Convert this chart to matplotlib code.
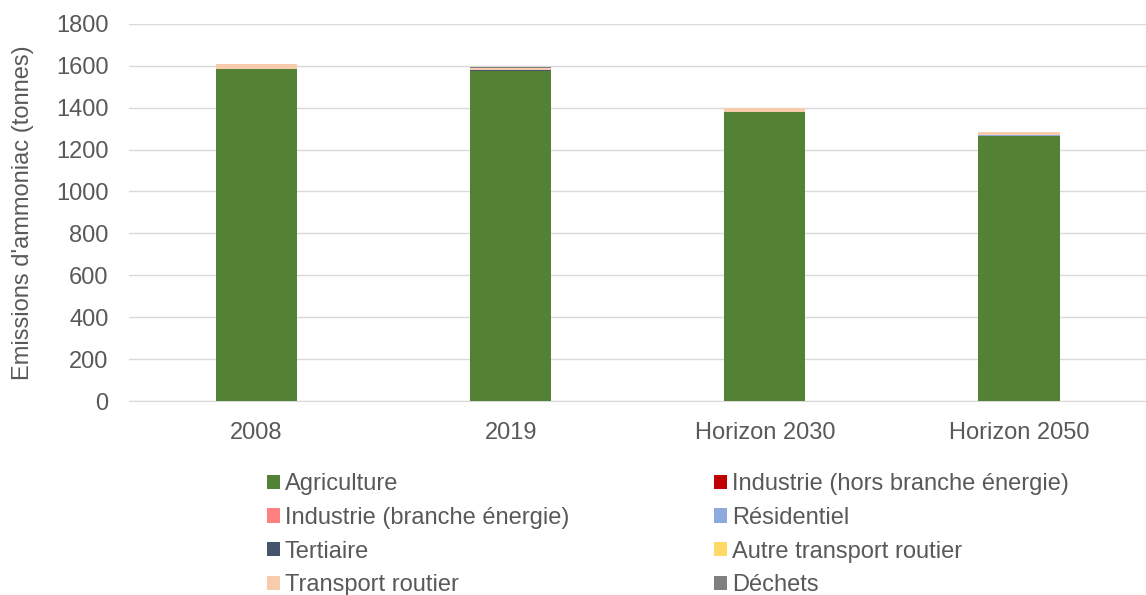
import matplotlib.pyplot as plt
import numpy as np

plt.rcParams['font.family'] = ['Liberation Sans', 'DejaVu Sans']

years = ["2008", "2019", "Horizon 2030", "Horizon 2050"]
sectors = ["Agriculture", "Industrie (hors branche énergie)", "Industrie (branche énergie)",
           "Résidentiel", "Tertiaire", "Autre transport routier", "Transport routier", "Déchets"]
colors = ["#548235", "#C00000", "#FF8080", "#8EA9DB", "#44546A", "#FFD966", "#F8CBAD", "#808080"]

agriculture = [1583, 1575, 1378, 1266]
industrie_hors = [0.5, 0.5, 0.5, 0.5]
industrie_energie = [0.2, 0.2, 0.2, 0.2]
residentiel = [1, 1, 1, 1]
tertiaire = [0.5, 2, 0.5, 0.5]
autre_transport = [0.5, 0.5, 0.5, 0.5]
transport_routier = [22, 11, 18, 16]
dechets = [0.5, 4, 0.5, 0.5]

series = [agriculture, industrie_hors, industrie_energie, residentiel,
          tertiaire, autre_transport, transport_routier, dechets]

fig = plt.figure(figsize=(11.46, 5.95), dpi=100)
ax = fig.add_axes([0.113, 0.326, 0.887, 0.634])

x = np.arange(len(years))
bottom = np.zeros(len(years))
handles = []
for name, vals, c in zip(sectors, series, colors):
    b = ax.bar(x, vals, 0.32, bottom=bottom, color=c, label=name, zorder=3)
    handles.append(b)
    bottom += np.array(vals)

ax.set_xlim(-0.5, 3.5)
ax.set_ylim(0, 1800)
ax.set_yticks(range(0, 1801, 200))
ax.set_xticks(x)
ax.set_xticklabels(years)
ax.grid(axis='y', color='#D9D9D9', linewidth=1, zorder=0)
for s in ['top', 'right', 'left']:
    ax.spines[s].set_visible(False)
ax.spines['bottom'].set_color('#D9D9D9')
ax.tick_params(axis='y', length=0, labelsize=17, colors='#595959', pad=15)
ax.tick_params(axis='x', length=0, labelsize=17, colors='#595959', pad=15)
ax.set_ylabel("Emissions d'ammoniac (tonnes)", fontsize=17, color='#595959')
ax.yaxis.set_label_coords(-0.094, 0.5)

# reorder for row-major display in two columns
order = [0, 2, 4, 6, 1, 3, 5, 7]
leg = fig.legend([handles[i] for i in order], [sectors[i] for i in order],
                 loc='upper left', bbox_to_anchor=(0.233, 0.205), ncol=2, frameon=False,
                 fontsize=17, handlelength=0.55, handleheight=0.55, handletextpad=0.2,
                 columnspacing=6.15, labelspacing=0.5, borderaxespad=0, borderpad=0)
for t in leg.get_texts():
    t.set_color('#595959')

fig.savefig("out.png", dpi=100)
